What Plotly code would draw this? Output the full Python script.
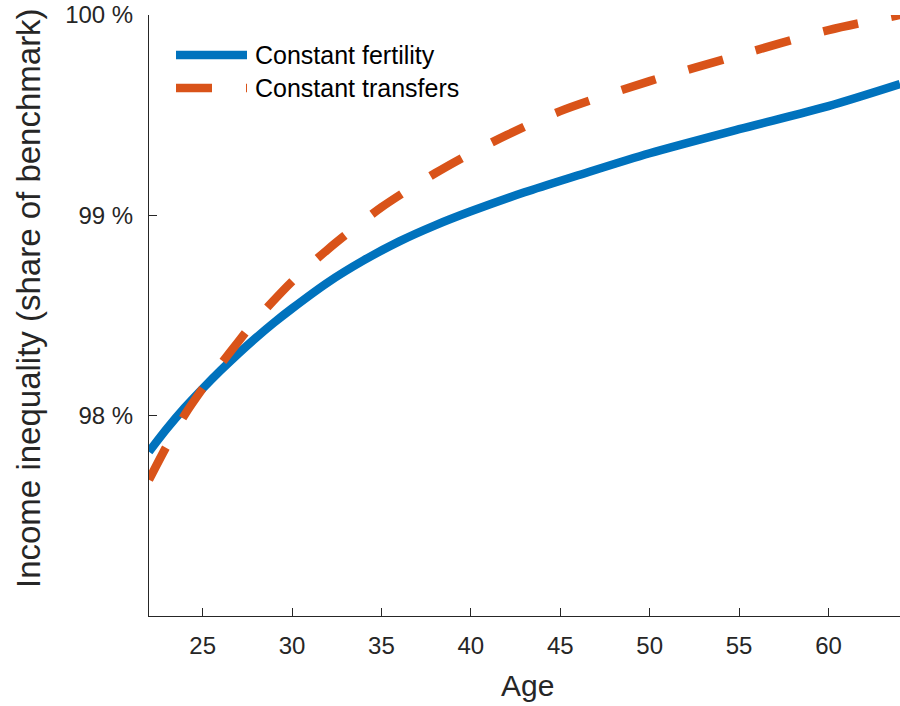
import plotly.graph_objects as go

# ---- data ----
age_fert = [22, 23, 24, 25, 26, 27, 28, 29, 30, 32, 34, 36, 38, 40, 43, 46, 50, 55, 60, 64]
const_fertility = [97.82, 97.935, 98.04, 98.135, 98.225, 98.31, 98.39, 98.465, 98.535,
                   98.665, 98.775, 98.87, 98.95, 99.02, 99.115, 99.2, 99.31, 99.43,
                   99.545, 99.655]

age_trans = [22, 23, 24, 25, 26, 27, 28, 30, 32, 35, 38, 40, 42, 45, 50, 55, 60, 64]
const_transfers = [97.68, 97.85, 98.005, 98.135, 98.255, 98.37, 98.48, 98.67, 98.83,
                   99.04, 99.21, 99.31, 99.40, 99.52, 99.67, 99.80, 99.925, 100.0]

x_ticks = [25, 30, 35, 40, 45, 50, 55, 60]
y_ticks = [98, 99, 100]
y_ticklabels = ["98 %", "99 %", "100 %"]
series_names = ["Constant fertility", "Constant transfers"]

BLUE = "#0072BD"
ORANGE = "#D95319"
DASH = "36px,34px"
FONT = "Liberation Sans, Arial, Helvetica, sans-serif"
AXC = "#262626"

fig = go.Figure()
fig.add_trace(go.Scatter(x=age_fert, y=const_fertility, mode="lines",
                         line=dict(color=BLUE, width=8.5, shape="spline", smoothing=0.8),
                         name=series_names[0], showlegend=False))
fig.add_trace(go.Scatter(x=age_trans, y=const_transfers, mode="lines",
                         line=dict(color=ORANGE, width=8.5, dash=DASH, shape="spline",
                                   smoothing=0.8),
                         name=series_names[1], showlegend=False))

W, H = 900, 706
L, R, T, B = 149, 0, 15, 90
pw, ph = W - L - R, H - T - B

def px_x(px):
    return (px - L) / pw

def px_y(py):
    return (H - B - py) / ph

# custom legend (line samples + text)
legend_rows = [(55, BLUE, "solid", series_names[0]), (88, ORANGE, DASH, series_names[1])]
for ypix, col, dash, name in legend_rows:
    fig.add_shape(type="line", xref="paper", yref="paper",
                  x0=px_x(176), x1=px_x(247), y0=px_y(ypix), y1=px_y(ypix),
                  line=dict(color=col, width=8.5, dash=dash))
    fig.add_annotation(xref="paper", yref="paper", x=px_x(253), y=px_y(ypix),
                       text=name, showarrow=False, xanchor="left", yanchor="middle",
                       font=dict(family=FONT, size=25, color="#000000"))

# axis titles
fig.add_annotation(xref="paper", yref="paper", x=px_x(527), y=px_y(686),
                   text="Age", showarrow=False, xanchor="center", yanchor="middle",
                   font=dict(family=FONT, size=30, color=AXC))
fig.add_annotation(xref="paper", yref="paper", x=px_x(28), y=px_y(298),
                   text="Income inequality (share of benchmark)", showarrow=False,
                   textangle=-90, xanchor="center", yanchor="middle",
                   font=dict(family=FONT, size=33, color=AXC))

fig.update_layout(
    width=W, height=H,
    margin=dict(l=L, r=R, t=T, b=B, pad=0),
    paper_bgcolor="white", plot_bgcolor="white",
    showlegend=False,
)
fig.update_xaxes(range=[22, 64], tickvals=x_ticks, ticks="inside", ticklen=8,
                 tickcolor=AXC, tickwidth=1, showline=True, linecolor=AXC, linewidth=1,
                 showgrid=False, zeroline=False, ticklabelstandoff=8,
                 tickfont=dict(family=FONT, size=24, color=AXC))
fig.update_yaxes(range=[97, 100], tickvals=y_ticks, ticktext=y_ticklabels,
                 ticks="inside", ticklen=8, tickcolor=AXC, tickwidth=1,
                 showline=True, linecolor=AXC, linewidth=1, showgrid=False,
                 zeroline=False, ticklabelstandoff=10,
                 tickfont=dict(family=FONT, size=24, color=AXC))

fig.write_html("out.html",
               config={"displayModeBar": False},
               post_script="document.body.style.margin='0';document.body.style.overflow='hidden';")
